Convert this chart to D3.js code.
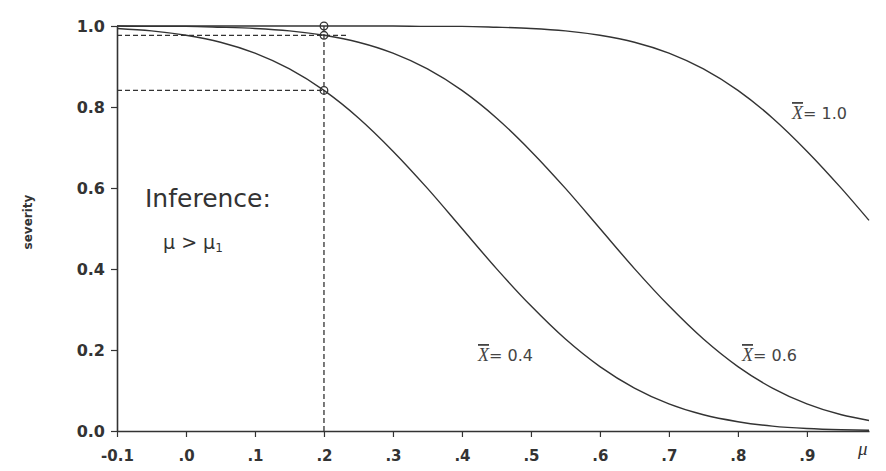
<!DOCTYPE html>
<html>
<head>
<meta charset="utf-8">
<script src="https://cdn.jsdelivr.net/npm/d3@7"></script>
<style>
  html, body { margin: 0; padding: 0; background: #fff; }
  svg { display: block; }
</style>
</head>
<body>
<svg id="chart" width="886" height="471"></svg>
<script>
// ---- data ----
const mu = [-0.10, -0.05, 0.00, 0.05, 0.10, 0.15, 0.20, 0.25, 0.30, 0.35, 0.40, 0.45,
            0.50, 0.55, 0.60, 0.65, 0.70, 0.75, 0.80, 0.85, 0.90, 0.95, 0.99];
const sevX04 = [0.994, 0.988, 0.977, 0.960, 0.933, 0.894, 0.841, 0.773, 0.691, 0.599, 0.500, 0.401,
                0.309, 0.227, 0.159, 0.106, 0.067, 0.040, 0.023, 0.012, 0.006, 0.003, 0.002];
const sevX06 = [1.000, 0.999, 0.999, 0.997, 0.994, 0.988, 0.977, 0.960, 0.933, 0.894, 0.841, 0.773,
                0.691, 0.599, 0.500, 0.401, 0.309, 0.227, 0.159, 0.106, 0.067, 0.040, 0.026];
const sevX10 = [1.000, 1.000, 1.000, 1.000, 1.000, 1.000, 1.000, 1.000, 1.000, 0.999, 0.999, 0.997,
                0.994, 0.988, 0.977, 0.960, 0.933, 0.894, 0.841, 0.773, 0.691, 0.599, 0.520];
const seriesLabels = ["0.4", "0.6", "1.0"];
const xTicks = [-0.1, 0.0, 0.1, 0.2, 0.3, 0.4, 0.5, 0.6, 0.7, 0.8, 0.9];
const xTickLabels = ["-0.1", ".0", ".1", ".2", ".3", ".4", ".5", ".6", ".7", ".8", ".9"];
const yTicks = [0.0, 0.2, 0.4, 0.6, 0.8, 1.0];
const yTickLabels = ["0.0", "0.2", "0.4", "0.6", "0.8", "1.0"];
const mu1 = 0.2;
const markPoints = [1.000, 0.977, 0.841];
const dashLevels = [0.977, 0.841];
const dashEnds = [0.232, 0.2];

// ---- drawing ----
const svg = d3.select("#chart");
const ink = "#333";
const x = d3.scaleLinear().domain([-0.1, 0.99]).range([117, 869]);
const y = d3.scaleLinear().domain([0, 1]).range([431, 26]);

// axes
const xAxis = d3.axisBottom(x).tickValues(xTicks)
  .tickFormat((d, i) => xTickLabels[i]).tickSize(6).tickSizeOuter(0).tickPadding(13);
const gx = svg.append("g").attr("transform", `translate(0,${y(0)})`).call(xAxis);
gx.select(".domain").attr("stroke", ink).attr("stroke-width", 1.6);
gx.selectAll(".tick line").attr("stroke", ink).attr("stroke-width", 1.2);
gx.selectAll(".tick text").attr("fill", ink)
  .style("font-family", "DejaVu Sans").style("font-weight", "bold").style("font-size", "15px");

const yAxis = d3.axisLeft(y).tickValues(yTicks)
  .tickFormat((d, i) => yTickLabels[i]).tickSize(6).tickSizeOuter(0).tickPadding(6);
const gy = svg.append("g").attr("transform", `translate(${x(-0.1)},0)`).call(yAxis);
gy.select(".domain").attr("stroke", ink).attr("stroke-width", 1.6);
gy.selectAll(".tick line").attr("stroke", ink).attr("stroke-width", 1.2);
gy.selectAll(".tick text").attr("fill", ink)
  .style("font-family", "DejaVu Sans").style("font-weight", "bold").style("font-size", "16px");

// axis labels
svg.append("text")
  .attr("transform", `translate(32,222) rotate(-90)`)
  .attr("text-anchor", "middle")
  .style("font-family", "DejaVu Sans").style("font-weight", "bold").style("font-size", "12px")
  .attr("fill", ink).text("severity");
svg.append("text")
  .attr("x", 858).attr("y", 455)
  .style("font-family", "Liberation Serif").style("font-style", "italic").style("font-size", "19px")
  .attr("fill", ink).text("μ");

// dashed reference lines
svg.append("line")
  .attr("x1", x(mu1)).attr("x2", x(mu1)).attr("y1", y(0)).attr("y2", y(1))
  .attr("stroke", ink).attr("stroke-width", 1.3).attr("stroke-dasharray", "5,3");
dashLevels.forEach((v, i) => {
  svg.append("line")
    .attr("x1", x(-0.1)).attr("x2", x(dashEnds[i])).attr("y1", y(v)).attr("y2", y(v))
    .attr("stroke", ink).attr("stroke-width", 1.3).attr("stroke-dasharray", "5,3");
});

// curves
const line = d3.line().x(d => x(d[0])).y(d => y(d[1])).curve(d3.curveMonotoneX);
[sevX04, sevX06, sevX10].forEach(s => {
  svg.append("path")
    .datum(mu.map((m, i) => [m, s[i]]))
    .attr("d", line).attr("fill", "none").attr("stroke", ink).attr("stroke-width", 1.4);
});

// marked points
markPoints.forEach(v => {
  svg.append("circle").attr("cx", x(mu1)).attr("cy", y(v)).attr("r", 3.8)
    .attr("fill", "none").attr("stroke", ink).attr("stroke-width", 1.3);
});

// curve labels
const labelPos = [[478, 361], [742, 361], [792, 119]];
seriesLabels.forEach((lab, i) => {
  const t = svg.append("text").attr("x", labelPos[i][0]).attr("y", labelPos[i][1])
    .attr("fill", "#444").style("font-size", "16px");
  t.append("tspan").style("font-family", "Liberation Serif").style("font-style", "italic")
    .style("text-decoration", "overline").style("font-size", "18px").text("X");
  t.append("tspan").style("font-family", "DejaVu Sans").text("= " + lab);
});

// inference annotation
svg.append("text").attr("x", 145).attr("y", 207)
  .style("font-family", "DejaVu Sans").style("font-size", "25px").attr("fill", ink)
  .text("Inference:");
const t2 = svg.append("text").attr("x", 163).attr("y", 249)
  .style("font-family", "DejaVu Sans").style("font-size", "19px").attr("fill", ink);
t2.append("tspan").text("μ > μ");
t2.append("tspan").attr("dy", 3).style("font-size", "12px").text("1");
</script>
</body>
</html>
